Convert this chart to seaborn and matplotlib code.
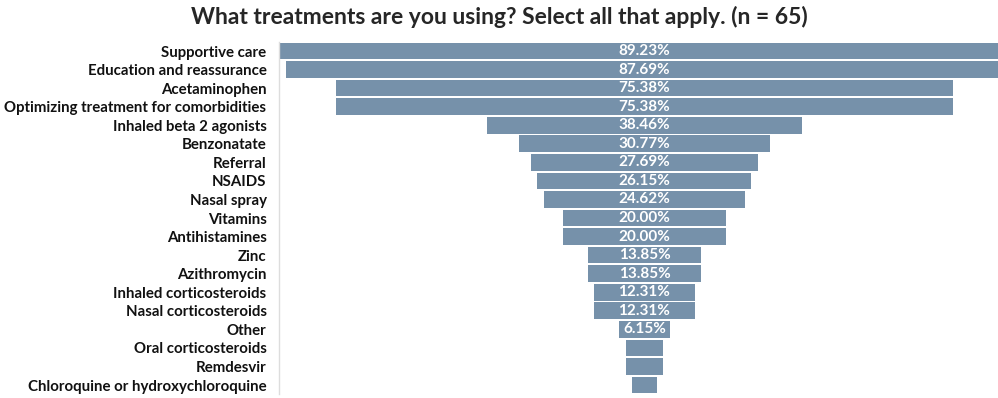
import numpy as np
import pandas as pd
import matplotlib
matplotlib.use("Agg")
import matplotlib.pyplot as plt
import seaborn as sns

# survey answers, top to bottom
treatments = [
    "Supportive care", "Education and reassurance", "Acetaminophen",
    "Optimizing treatment for comorbidities", "Inhaled beta 2 agonists",
    "Benzonatate", "Referral", "NSAIDS", "Nasal spray", "Vitamins",
    "Antihistamines", "Zinc", "Azithromycin", "Inhaled corticosteroids",
    "Nasal corticosteroids", "Other", "Oral corticosteroids", "Remdesvir",
    "Chloroquine or hydroxychloroquine",
]
percent = [89.23, 87.69, 75.38, 75.38, 38.46, 30.77, 27.69, 26.15, 24.62,
           20.00, 20.00, 13.85, 13.85, 12.31, 12.31, 6.15, 4.62, 4.62, 3.08]

bar_color = "#7691aa"

sns.set_theme(style="white")
plt.rcParams["font.family"] = ["Lato", "DejaVu Sans"]

df = pd.DataFrame({"treatment": treatments, "pct": percent})
df["half"] = df["pct"] / 2
df["neg"] = -df["pct"] / 2

fig = plt.figure(figsize=(9.98, 3.98), dpi=100)
ax = fig.add_axes([279 / 998, 0.0093, 1 - 279 / 998, 0.8858])

# funnel: draw each bar as two halves mirrored around zero
sns.barplot(data=df, x="half", y="treatment", color=bar_color, width=0.9,
            linewidth=0, saturation=1, ax=ax, orient="h")
sns.barplot(data=df, x="neg", y="treatment", color=bar_color, width=0.9,
            linewidth=0, saturation=1, ax=ax, orient="h")

for i, v in enumerate(percent):
    if v >= 5:
        ax.text(0, i, f"{v:.2f}%", ha="center", va="center", color="white",
                fontsize=11, fontweight="bold")

ax.set_xlim(-44.65, 43.2)
ax.set_ylim(len(treatments) - 0.5, -0.5)
ax.set_xlabel("")
ax.set_ylabel("")
ax.set_xticks([])
ax.tick_params(axis="y", length=0, pad=9)
for lbl in ax.get_yticklabels():
    lbl.set_fontsize(10.8)
    lbl.set_fontweight("bold")
    lbl.set_color("#111111")

for s in ["top", "right", "bottom"]:
    ax.spines[s].set_visible(False)
ax.spines["left"].set_color("#dddddd")
ax.spines["left"].set_linewidth(1)

fig.suptitle("What treatments are you using? Select all that apply. (n = 65)",
             x=0.5, y=0.985, fontsize=16.5, fontweight="bold", va="top")

fig.savefig("out.png", dpi=100)
